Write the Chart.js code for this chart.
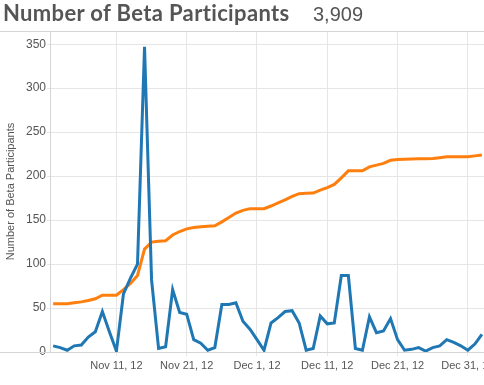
<!DOCTYPE html>
<html>
<head>
<meta charset="utf-8">
<script src="https://cdn.jsdelivr.net/npm/chart.js@4"></script>
<style>
  body { margin: 0; background: #fff; overflow: hidden; }
  #wrap { position: relative; width: 484px; height: 385px; }
  #head { position: absolute; left: 0; top: 0; width: 484px; height: 31px; border-bottom: 1px solid #d4d4d4; }
  #title { position: absolute; left: 3px; top: 0; font: bold 22px Lato, sans-serif; letter-spacing: 0.35px; line-height: 26px; color: #555; white-space: nowrap; }
  #total { position: absolute; left: 313px; top: 1px; font: 20px "Liberation Sans", Arial, sans-serif; line-height: 26px; color: #555; }
  canvas { position: absolute; left: 0; top: 0; }
</style>
</head>
<body>
<div id="wrap">
  <canvas id="myChart" width="484" height="385"></canvas>
  <div id="head">
    <span id="title">Number of Beta Participants</span>
    <span id="total">3,909</span>
  </div>
</div>
<script>
const ctx = document.getElementById("myChart").getContext("2d");

// daily series, first day is Nov 2, 2012
const startDate = "2012-11-02";
const tickDates = ["2012-11-11", "2012-11-21", "2012-12-01", "2012-12-11", "2012-12-21", "2012-12-31"];
const tickLabels = ["Nov 11, 12", "Nov 21, 12", "Dec 1, 12", "Dec 11, 12", "Dec 21, 12", "Dec 31, 12"];

const participants = [
	7, 5, 2, 7, 8, 17, 23, 46, 23, 1,
	66, 84, 100, 347, 82, 4, 6, 71, 45, 43,
	14, 10, 2, 5, 54, 54, 56, 35, 26,
	14, 2, 33, 39, 46, 47, 33, 2, 4, 41,
	32, 33, 87, 87, 4, 2, 40, 22, 24, 38,
	14, 2, 3, 5, 1, 5, 7, 14, 11, 7, 2,
	9, 20
];
const trend = [
	55, 55, 55, 56, 57, 58.5, 60.5, 64.5, 64.5, 64.5,
	71, 78, 87, 117, 125, 126, 126.5, 133, 137, 140,
	141.5, 142.5, 143, 143.5, 148, 153, 158, 161, 163,
	163, 163, 166, 169.5, 173, 177, 180, 180.5, 180.7, 184,
	187, 190.5, 198, 206, 206, 206, 210.5, 212.5, 214.5, 218,
	219, 219.3, 219.5, 219.6, 219.8, 220, 221, 222, 222, 222, 222,
	223, 224
];
const yTicks = [0, 50, 100, 150, 200, 250, 300, 350];

const DAY = 86400000;
const t0 = new Date(startDate).getTime();
const dayOf = (d) => (new Date(d).getTime() - t0) / DAY;

const toPoints = (vals) => vals.map((v, i) => ({ x: i, y: v }));

// pane borders across the whole width, like the original
const paneLines = {
	id: "paneLines",
	afterDraw(chart) {
		const c = chart.ctx;
		const a = chart.chartArea;
		c.save();
		c.strokeStyle = "#d4d4d4";
		c.lineWidth = 1;
		c.beginPath();
		c.moveTo(0, Math.round(a.bottom) + 0.5);
		c.lineTo(chart.width, Math.round(a.bottom) + 0.5);
		c.stroke();
		c.restore();
	}
};

const chart = new Chart(ctx, {
	type: "line",
	data: {
		datasets: [{
			label: "Number of Beta Participants",
			data: toPoints(participants),
			borderColor: "#1f77b4",
			borderWidth: 3,
			pointRadius: 0,
			tension: 0
		}, {
			label: "Trend",
			data: toPoints(trend),
			borderColor: "#ff7f0e",
			borderWidth: 3,
			pointRadius: 0,
			tension: 0
		}]
	},
	options: {
		responsive: false,
		animation: false,
		devicePixelRatio: 1,
		layout: { padding: { top: 31, right: 0, bottom: 0, left: 0 } },
		plugins: {
			legend: { display: false },
			tooltip: { enabled: false }
		},
		scales: {
			x: {
				type: "linear",
				min: -0.45,
				max: 61.3,
				afterBuildTicks: (s) => { s.ticks = tickDates.map((d) => ({ value: dayOf(d) })); },
				afterFit: (s) => { s.height = 33; s.paddingRight = 0; s.paddingLeft = 0; },
				ticks: {
					autoSkip: false,
					maxRotation: 0,
					padding: 3,
					color: "#555",
					font: { family: "'Liberation Sans', Arial", size: 11 },
					callback: (v) => tickLabels[tickDates.findIndex((d) => dayOf(d) === v)]
				},
				grid: { color: "#e6e6e6", tickLength: 4 },
				border: { display: false }
			},
			y: {
				min: 0,
				max: 365,
				afterBuildTicks: (s) => { s.ticks = yTicks.map((v) => ({ value: v })); },
				afterFit: (s) => { s.width = 50; },
				ticks: {
					padding: 1,
					color: "#555",
					font: { family: "'Liberation Sans', Arial", size: 12 }
				},
				grid: { color: "#e6e6e6", tickLength: 3 },
				border: { color: "#d4d4d4" },
				title: {
					display: true,
					text: "Number of Beta Participants",
					color: "#555",
					font: { family: "'Liberation Sans', Arial", size: 11 },
					padding: { top: 4, bottom: 0 }
				}
			}
		}
	},
	plugins: [paneLines]
});
</script>
</body>
</html>
